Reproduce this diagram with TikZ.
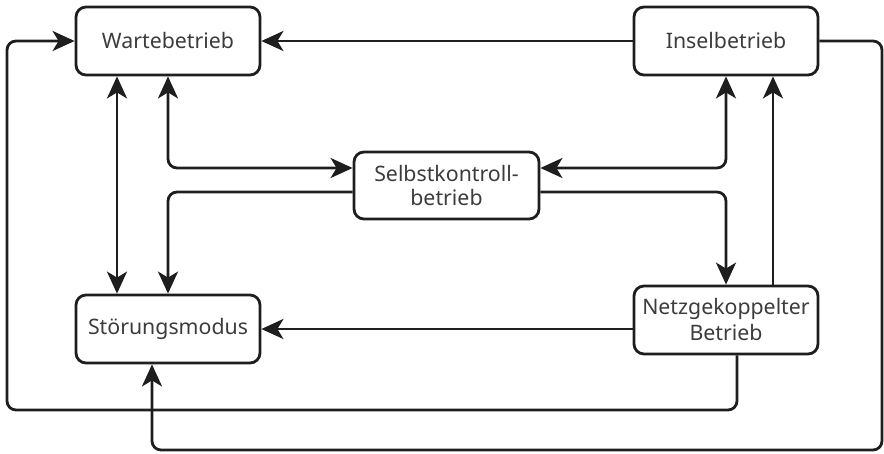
\documentclass[tikz,border=0pt]{standalone}
\usepackage{fontspec}
\setmainfont{Noto Sans}
\usetikzlibrary{arrows.meta,positioning}
\definecolor{linec}{HTML}{1E1E1E}
\definecolor{textc}{HTML}{3C3C3C}
\tikzset{
  statebox/.style={draw=linec, line width=2.8pt, rounded corners=10pt, fill=white,
    minimum width=184pt, minimum height=68pt, text=textc, align=center,
    font=\fontsize{21.3}{26}\selectfont, inner sep=2pt},
  conn/.style={draw=linec, line width=2.8pt, rounded corners=9pt},
  tip/.style={},
  arr/.style={conn, -{Stealth[length=22pt,width=20pt,inset=6pt]}},
  darr/.style={conn, {Stealth[length=22pt,width=20pt,inset=6pt]}-{Stealth[length=22pt,width=20pt,inset=6pt]}},
}
\begin{document}
\begin{tikzpicture}[x=1pt,y=-1pt]
\useasboundingbox (0,0) rectangle (884,453);
\node[statebox] (warte) at (168,41) {Wartebetrieb};
\node[statebox] (insel) at (726,41) {Inselbetrieb};
\node[statebox, minimum width=185pt, minimum height=67pt, font=\fontsize{21.3}{24}\selectfont] (selbst) at (446.5,185.5) {Selbstkontroll-\\betrieb};
\node[statebox] (stor) at (168,329) {Störungsmodus};
\node[statebox, font=\fontsize{21.3}{26}\selectfont] (netz) at (726,320) {Netzgekoppelter\\Betrieb};

\coordinate (cR) at (882,450);
\coordinate (cL) at (7,410);

\draw[arr] (insel.west) -- (warte.east);
\draw[arr] (insel.east) -| (cR) -| ([xshift=-16pt]stor.south);
\draw[arr] ([xshift=11pt]netz.south) |- (cL) |- (warte.west);
\draw[arr] (netz.west |- stor.east) -- (stor.east);
\draw[darr] ([xshift=-51pt]warte.south) -- ([xshift=-51pt]stor.north);
\draw[darr] (warte.south) |- ([yshift=17.5pt]selbst.west);
\draw[arr] ([yshift=-6.5pt]selbst.west) -| (stor.north);
\draw[darr] ([yshift=17.5pt]selbst.east) -| (insel.south);
\draw[arr] ([yshift=-6.5pt]selbst.east) -| (netz.north);
\draw[arr] ([xshift=47pt]netz.north) -- ([xshift=47pt]insel.south);
\end{tikzpicture}
\end{document}
